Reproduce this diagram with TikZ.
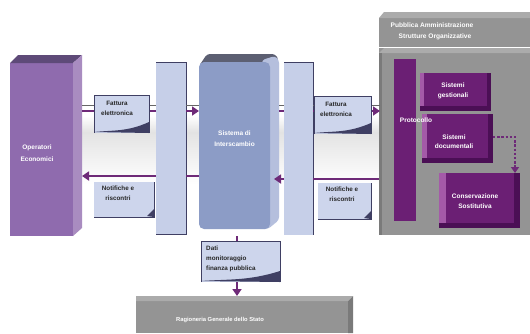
\documentclass[tikz,border=0pt]{standalone}
\usepackage{fontspec}
\setmainfont{Liberation Sans}
\usetikzlibrary{arrows.meta,calc,positioning}
\definecolor{purpA}{HTML}{8F6BAE}
\definecolor{purpT}{HTML}{5E4A78}
\definecolor{purpS}{HTML}{A98CC0}
\definecolor{panelC}{HTML}{C6CFE8}
\definecolor{sysC}{HTML}{8C9CC6}
\definecolor{sysS}{HTML}{B5BFDD}
\definecolor{sysT}{HTML}{5C5F72}
\definecolor{noteC}{HTML}{CDD5EC}
\definecolor{navy}{HTML}{3F3F63}
\definecolor{greyC}{HTML}{949494}
\definecolor{greyT}{HTML}{ABABAB}
\definecolor{greyD}{HTML}{7A7A7A}
\definecolor{magC}{HTML}{6B1F74}
\definecolor{magL}{HTML}{A45AA8}
\definecolor{magD}{HTML}{4B0F55}
\definecolor{arrC}{HTML}{6E2A78}
\tikzset{
 x=1pt,y=-1pt,
 box/.style 2 args={minimum width=#1,minimum height=#2,anchor=north west,inner sep=0pt,outer sep=0pt},
 panel/.style={fill=panelC,draw=none},
 note/.style={fill=noteC},
 notetext/.style={align=center,inner sep=0pt,font=\fontsize{6.3}{10}\selectfont\bfseries,text=black!85},
 whitetext/.style={text=white,align=center,inner sep=0pt,font=\fontsize{6.5}{10}\selectfont\bfseries},
 flow/.style={draw=arrC,line width=2.6pt},
 flowA/.style={flow,-{Triangle[length=7pt,width=9pt]}},
 thin line/.style={draw=black!60,line width=.8pt}
}
\begin{document}
\begin{tikzpicture}
\useasboundingbox (0,0) rectangle (530,333);
\fill[white] (0,0) rectangle (530,333);
% soft band
\shade[top color=white,bottom color=black!11] (82,116) rectangle (380,132);
\shade[top color=black!11,bottom color=white] (82,132) rectangle (380,184);

% Operatori
\node[box={63pt}{173pt},fill=purpA] (op) at (10,63) {};
\fill[purpT] (op.north west) -- (18,55) -- (82,55) -- (op.north east) -- cycle;
\fill[purpS] (op.north east) -- (82,55) -- (82,228) -- (op.south east) -- cycle;
\node[whitetext,text=white] at (37,153) {Operatori\\[2pt]Economici};

% panels
\node[box={30pt}{172pt},panel] (p1) at (156,62) {};
\node[box={29pt}{173pt},panel] (p2) at (284,62) {};
\draw[navy,line width=.8pt] (p1.north west) -- (p1.north east) -- (p1.south east) -- (p1.south west);
\draw[navy,line width=.8pt] (p2.north west) -- (p2.north east) -- (p2.south east);

% Sistema
\fill[sysT,rounded corners=3pt] (207,54) -- (275,54) -- (279,60) -- (270,66) -- (199,66) -- cycle;
\fill[sysS,rounded corners=3pt] (262,60) -- (275,56) -- (279,60) -- (279,220) -- (268,229) -- (262,229) -- cycle;
\node[box={71pt}{167pt},fill=sysC,rounded corners=5pt] (si) at (199,62) {};
\node[whitetext] at (234.5,139) {Sistema di\\[1pt]Interscambio};

% PA grey
\node[box={151pt}{29pt},fill=greyC] (pa) at (379,18) {};
\fill[greyT] (pa.north west) -- (384,12) -- (530,12) -- (530,18) -- cycle;
\node[whitetext,font=\fontsize{6.6}{8}\selectfont\bfseries] at (432,25) {Pubblica Amministrazione};
\node[whitetext,font=\fontsize{6.6}{8}\selectfont\bfseries] at (435,37) {Strutture Organizzative};
\node[box={151pt}{187pt},fill=greyC] (so) at (379,48) {};
\fill[greyT] (379,53) -- (384,48) -- (530,48) -- (530,53) -- cycle;
\fill[greyD] (379,235) -- (382,235) -- (382,53) -- (379,53) -- cycle;

% Protocollo and systems
\node[box={22pt}{162pt},fill=magC] (pr) at (394,59) {};
\node[box={71pt}{38pt},fill=magC] (sg) at (420,73) {};
\node[box={71pt}{49pt},fill=magC] (sd) at (422,114) {};
\node[box={81pt}{55pt},fill=magC] (cs) at (439,173) {};
\foreach \n/\a/\b in {sg/4/4,sd/5/5,cs/7/6}{
 \fill[magL] (\n.north west) rectangle ($(\n.south west)+(\a,-4)$);
 \fill[magD] ($(\n.north east)+(-\b,0)$) rectangle (\n.south east);
 \fill[magD] ($(\n.south west)+(0,-5)$) rectangle (\n.south east);
}
\node[whitetext] at (416,120) {Protocollo};
\node[whitetext] at (453,91) {Sistemi\\[0pt]gestionali};
\node[whitetext] at (454,141.5) {Sistemi\\[-1pt]documentali};
\node[whitetext] at (475,201) {Conservazione\\[0pt]Sostitutiva};

% Ragioneria
\node[box={217pt}{37pt},fill=greyC] (rg) at (136,296) {};
\fill[greyD] (348,301) -- (353,296) -- (353,333) -- (348,333) -- cycle;
\fill[greyT] (136,296) -- (353,296) -- (348,301) -- (136,301) -- cycle;
\node[whitetext,font=\fontsize{5.8}{8}\selectfont\bfseries] at (220,320) {Ragioneria Generale dello Stato};

% connector anchors
\path (82,111) coordinate (a1) (82,105) coordinate (a1t) (82,176) coordinate (a2);
\coordinate (s1) at (199,111); \coordinate (s1t) at (199,105); \coordinate (s2) at (199,176);
\coordinate (s3) at (279,111); \coordinate (s3t) at (279,105); \coordinate (s4) at (274,179);
\coordinate (e1) at (380,111); \coordinate (e1t) at (380,105); \coordinate (e2) at (379,179);
\draw[thin line] (a1t) -- (p1.west |- a1t);
\draw[thin line] (p1.east |- a1t) -- (s1t);
\draw[thin line] (s3t) -- (p2.west |- s3t);
\draw[thin line] (p2.east |- s3t) -- (e1t);
\draw[flow] (a1) -- (p1.west |- a1);
\draw[flowA] (p1.east |- a1) -- (s1);
\draw[flow] (s3) -- (p2.west |- s3);
\draw[flowA] (p2.east |- s3) -- (e1);
\draw[flowA] (p1.west |- a2) -- (a2);
\draw[flow] (s2) -- (p1.east |- s2);
\draw[flowA] (p2.west |- s4) -- (s4);
\draw[flow] (e2) -- (p2.east |- e2);

% notes
\node[box={55pt}{38pt},note] (n1) at (94,95) {};
\node[box={57pt}{38pt},note] (n3) at (314,96) {};
\node[box={60pt}{35pt},note] (n2) at (94,182) {};
\node[box={53pt}{36pt},note] (n4) at (318,183) {};
\node[box={79pt}{41pt},note] (n5) at (201,241) {};
\foreach \n in {n1,n3,n5}{
 \fill[navy] ($(\n.south west)+(0,-1)$) .. controls ($(\n.south west)!.35!(\n.south east)+(0,-3)$) and ($(\n.south west)!.6!(\n.south east)+(0,-1)$) .. ($(\n.south east)+(0,-11)$) -- (\n.south east) -- cycle;
 \draw[navy,line width=.9pt] (\n.south west) -- (\n.north west) -- (\n.north east) -- (\n.south east);
}
\foreach \n in {n2,n4}{
 \fill[navy] ($(\n.south east)+(-7,-1)$) -- ($(\n.south east)+(0,-8)$) -- (\n.south east) -- cycle;
 \draw[navy,line width=.9pt] (\n.south west) -- (\n.south east) -- (\n.north east);
}
\node[notetext] at (117,108) {Fattura\\elettronica};
\node[notetext] at (336,109) {Fattura\\elettronica};
\node[notetext] at (118,193) {Notifiche e\\riscontri};
\node[notetext] at (342,194.5) {Notifiche e\\riscontri};
\node[notetext,align=left,anchor=north west] at (206,246) {Dati\\monitoraggio\\finanza pubblica};

% Sistema to Dati to Ragioneria
\draw[draw=arrC,line width=2pt] (237,236) -- (n5.north -| 237,0);
\draw[flowA] (n5.south -| 237,0) -- (rg.north -| 237,0);

% dotted
\draw[draw=arrC,line width=2.4pt,dash pattern=on 2.4pt off 1.8pt,-{Triangle[length=6pt,width=8pt]}] (sd.east |- 0,137) -| (cs.north -| 515,0);
\end{tikzpicture}
\end{document}
